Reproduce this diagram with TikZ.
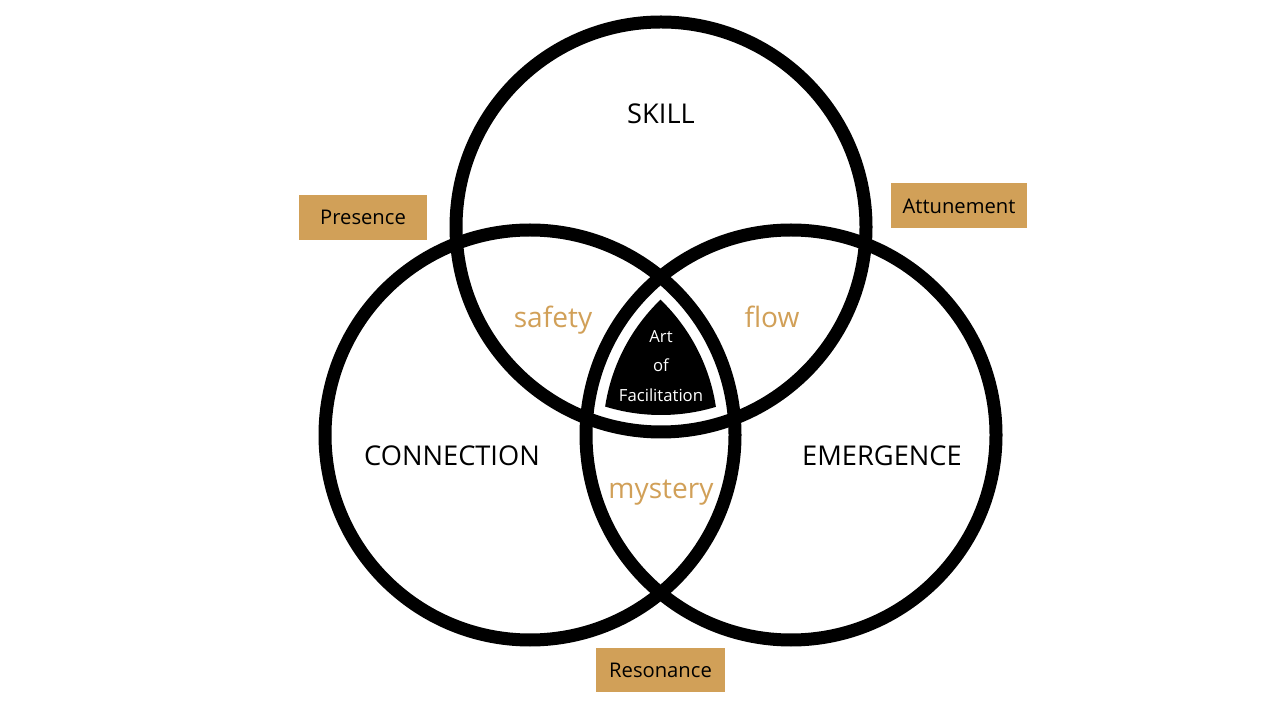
\documentclass[tikz,border=0pt]{standalone}
\usepackage{fontspec}
\setmainfont{Open Sans}
\usetikzlibrary{positioning}
\definecolor{sand}{HTML}{D1A058}
\tikzset{
  ring/.style = {draw=black, line width=0.26cm},
  core/.style = {fill=black},
  tag/.style = {rectangle, fill=sand, text=black, inner sep=0pt,
    minimum height=0.9cm, font=\fontsize{11.5}{13}\selectfont},
  setname/.style = {text=black, inner sep=0pt, text height=0.72em, text depth=0pt,
    font=\fontsize{15.5}{17}\selectfont},
  overlap/.style = {text=sand, inner sep=0pt, text height=0.55em, text depth=0pt,
    font=\fontsize{16}{18}\selectfont},
}

\begin{document}
\begin{tikzpicture}[x=0.02cm, y=0.02cm]
  \useasboundingbox (0,0) rectangle (1280,720);

  % Circle centres
  \coordinate (cSkill) at (661,493);
  \coordinate (cConn)  at (530,285);
  \coordinate (cEmer)  at (791,285);

  % Black core where all three meet
  \begin{scope}
    \clip (cSkill) circle (188);
    \clip (cConn) circle (188);
    \fill[core] (cEmer) circle (188);
  \end{scope}

  % Circles
  \draw[ring] (cSkill) circle (205);
  \draw[ring] (cConn)  circle (205);
  \draw[ring] (cEmer)  circle (205);

  % Circle names
  \node[setname] (skill)      at (661,603) {SKILL};
  \node[setname] (connection) at (452,261) {CONNECTION};
  \node[setname] (emergence)  at (882,261) {EMERGENCE};

  % Overlaps
  \node[overlap] (safety)  at (553,397) {safety};
  \node[overlap] (flow)    at (772,397) {flow};
  \node[overlap] (mystery) at (661,226) {mystery};

  % Centre text
  \node[text=white, align=center, font=\fontsize{9.5}{16.7}\selectfont] (art) at (661,354) {Art\\of\\Facilitation};

  % Tags
  \node[tag, minimum width=2.56cm] (presence)   at (363,502.5) {Presence};
  \node[tag, minimum width=2.72cm] (attunement) at (959,514)   {Attunement};
  \node[tag, minimum width=2.58cm] (resonance)  at (660.5,50)  {Resonance};

\end{tikzpicture}
\end{document}
